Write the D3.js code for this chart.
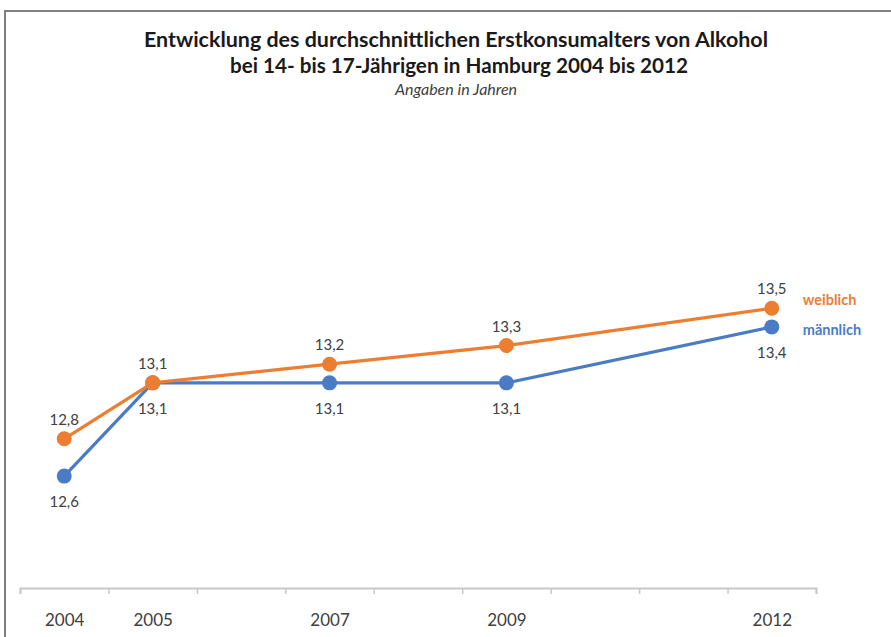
<!DOCTYPE html>
<html>
<head>
<meta charset="utf-8">
<script src="https://cdn.jsdelivr.net/npm/d3@7"></script>
<style>
  html, body { margin: 0; padding: 0; background: #fff; }
  svg { display: block; font-family: Lato, "Open Sans", sans-serif; }
</style>
</head>
<body>
<svg id="chart" width="891" height="637"></svg>
<script>
// Jahre auf der Achse (jedes Jahr ein Abschnitt), beschriftet werden nur Erhebungsjahre
const axisYears = [2004, 2005, 2006, 2007, 2008, 2009, 2010, 2011, 2012];
const surveyYears = [2004, 2005, 2007, 2009, 2012];
const yearLabels = ["2004", "2005", "2007", "2009", "2012"];

// Durchschnittliches Erstkonsumalter (Jahre)
const weiblich = [12.8, 13.1, 13.2, 13.3, 13.5];
const maennlich = [12.6, 13.1, 13.1, 13.1, 13.4];

const seriesNames = ["weiblich", "männlich"];
const colors = { weiblich: "#ED7D31", "männlich": "#4A7CC6" };

const svg = d3.select("#chart");
const W = 891, H = 637;

// Rahmen (oben und links)
svg.append("path")
  .attr("d", `M5,${H} L5,11 L${W},11`)
  .attr("fill", "none")
  .attr("stroke", "#808080")
  .attr("stroke-width", 2);

// Titel
const title = svg.append("g").attr("text-anchor", "middle").attr("fill", "#1a1a1a");
title.append("text").attr("x", 456).attr("y", 47)
  .attr("font-size", 20).attr("font-weight", "bold")
  .attr("textLength", 624).attr("lengthAdjust", "spacingAndGlyphs")
  .text("Entwicklung des durchschnittlichen Erstkonsumalters von Alkohol");
title.append("text").attr("x", 459).attr("y", 73)
  .attr("font-size", 20).attr("font-weight", "bold")
  .attr("textLength", 458).attr("lengthAdjust", "spacingAndGlyphs")
  .text("bei 14- bis 17-Jährigen in Hamburg 2004 bis 2012");
title.append("text").attr("x", 456).attr("y", 95)
  .attr("font-size", 16).attr("font-style", "italic").attr("fill", "#404040")
  .text("Angaben in Jahren");

// Skalen
const x = d3.scaleLinear()
  .domain([axisYears[0] - 0.5, axisYears[axisYears.length - 1] + 0.5])
  .range([20, 816]);
const y = d3.scaleLinear().domain([12, 14]).range([588, 215]);

// Achse: Teilstriche an den Abschnittsgrenzen
const boundaries = axisYears.map(v => v - 0.5).concat([axisYears[axisYears.length - 1] + 0.5]);
const axisTicks = svg.append("g")
  .attr("transform", `translate(0,${y(12)})`)
  .call(d3.axisBottom(x).tickValues(boundaries).tickSize(6).tickFormat(""));
axisTicks.select(".domain").attr("stroke", "#c8c8c8").attr("stroke-width", 2);
axisTicks.selectAll(".tick line").attr("stroke", "#c8c8c8").attr("stroke-width", 1.5);

// Achse: Jahresbeschriftungen
const yearMap = new Map(surveyYears.map((v, i) => [v, yearLabels[i]]));
const axisLabels = svg.append("g")
  .attr("transform", `translate(0,${y(12)})`)
  .call(d3.axisBottom(x).tickValues(surveyYears).tickSize(0).tickPadding(38)
    .tickFormat(d => yearMap.get(d)));
axisLabels.select(".domain").remove();
axisLabels.selectAll(".tick text")
  .attr("font-family", "Lato, sans-serif")
  .attr("font-size", 17)
  .attr("fill", "#404040")
  .attr("dy", 0);

// Linien und Punkte
const series = [
  { name: "weiblich", values: weiblich, above: true },
  { name: "männlich", values: maennlich, above: false }
];
const line = d3.line().x(d => x(d.year)).y(d => y(d.value));

// männlich zuerst zeichnen, weiblich liegt darüber
[series[1], series[0]].forEach(s => {
  const pts = surveyYears.map((yr, i) => ({ year: yr, value: s.values[i] }));
  const g = svg.append("g");
  g.append("path")
    .datum(pts)
    .attr("d", line)
    .attr("fill", "none")
    .attr("stroke", colors[s.name])
    .attr("stroke-width", 3.2)
    .attr("stroke-linejoin", "round");
  g.selectAll("circle")
    .data(pts)
    .join("circle")
    .attr("cx", d => x(d.year))
    .attr("cy", d => y(d.value))
    .attr("r", 7.5)
    .attr("fill", colors[s.name]);
});

// Datenbeschriftungen
series.forEach(s => {
  const pts = surveyYears.map((yr, i) => ({ year: yr, value: s.values[i] }));
  svg.append("g").selectAll("text")
    .data(pts)
    .join("text")
    .attr("x", d => x(d.year))
    .attr("y", d => y(d.value) + (s.above ? -14 : 31))
    .attr("text-anchor", "middle")
    .attr("font-size", 15)
    .attr("fill", "#404040")
    .text(d => d3.format(".1f")(d.value).replace(".", ","));
});

// Legende am Linienende
const lastX = x(surveyYears[surveyYears.length - 1]);
svg.append("text")
  .attr("x", lastX + 31).attr("y", y(weiblich[weiblich.length - 1]) - 3)
  .attr("font-size", 14.5).attr("font-weight", "bold")
  .attr("fill", colors.weiblich)
  .text(seriesNames[0]);
svg.append("text")
  .attr("x", lastX + 31).attr("y", y(maennlich[maennlich.length - 1]) + 8)
  .attr("font-size", 14.5).attr("font-weight", "bold")
  .attr("fill", colors["männlich"])
  .text(seriesNames[1]);
</script>
</body>
</html>
